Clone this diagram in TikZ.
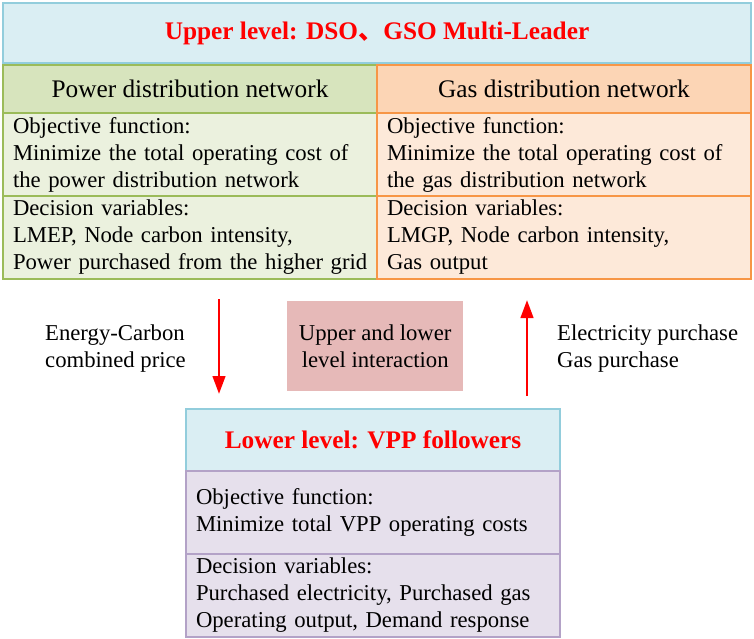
\documentclass[tikz,border=0pt]{standalone}
\usepackage{fontspec}
\setmainfont{Liberation Serif}
\newfontfamily\cjk{Noto Sans CJK SC}
\usetikzlibrary{arrows.meta}
\definecolor{skyfill}{HTML}{DAEEF3}
\definecolor{skyline}{HTML}{92CDDC}
\definecolor{grnhead}{HTML}{D7E4BD}
\definecolor{grnbody}{HTML}{EBF1DE}
\definecolor{grnline}{HTML}{9BBB59}
\definecolor{orghead}{HTML}{FCD5B5}
\definecolor{orgbody}{HTML}{FDE9D9}
\definecolor{orgline}{HTML}{F79646}
\definecolor{purbody}{HTML}{E6E0EC}
\definecolor{purline}{HTML}{B3A2C7}
\definecolor{midfill}{HTML}{E6B9B8}
\definecolor{titlered}{HTML}{FF0000}
\tikzset{
  every node/.style={font=\fontsize{22.7}{27}\selectfont},
  boxbase/.style={anchor=north west, line width=1.8pt, inner ysep=0pt, outer sep=0pt},
  titlebox/.style={boxbase, fill=skyfill, draw=skyline, font=\fontsize{25.3}{28}\selectfont\bfseries, text=titlered},
  headbox/.style={boxbase, font=\fontsize{25.3}{28}\selectfont},
  bodybox/.style={boxbase, align=left, inner xsep=10pt, text width=354pt, minimum height=83pt},
  lbl/.style={align=left, anchor=west, inner sep=0pt},
  flowarrow/.style={draw=titlered, line width=2.8pt, -{Triangle[width=12.5pt,length=18pt]}}
}
\begin{document}
\begin{tikzpicture}[x=1pt,y=-1pt]
\useasboundingbox (0,0) rectangle (754,639);
% top
\node[titlebox, minimum width=748pt, minimum height=60pt] (top) at (3,3) {Upper level: DSO{\cjk 、}GSO Multi-Leader};
\node[headbox, fill=grnhead, draw=grnline, minimum width=374pt, minimum height=48pt] (phead) at (3,65) {Power distribution network};
\node[headbox, fill=orghead, draw=orgline, minimum width=374pt, minimum height=48pt] (ghead) at (377,65) {Gas distribution network};
\node[bodybox, fill=grnbody, draw=grnline] (pobj) at (3,113) {Objective function:\\\mbox{Minimize the total operating cost of}\\the power distribution network};
\node[bodybox, fill=grnbody, draw=grnline] (pdec) at (3,196) {Decision variables:\\LMEP, Node carbon intensity,\\\mbox{Power purchased from the higher grid}};
\node[bodybox, fill=orgbody, draw=orgline] (gobj) at (377,113) {Objective function:\\\mbox{Minimize the total operating cost of}\\the gas distribution network};
\node[bodybox, fill=orgbody, draw=orgline] (gdec) at (377,196) {Decision variables:\\LMGP, Node carbon intensity,\\Gas output};
% middle
\node[anchor=north west, fill=midfill, minimum width=176pt, minimum height=90pt, align=center, inner sep=0pt] (mid) at (287,301) {Upper and lower\\level interaction};
\node[lbl] (llbl) at (45,349) {Energy-Carbon\\combined price};
\node[lbl] (rlbl) at (557,349) {Electricity purchase\\Gas purchase};
% bottom
\node[titlebox, minimum width=374pt, minimum height=62pt] (low) at (186,409) {Lower level: VPP followers};
\node[bodybox, fill=purbody, draw=purline] (lobj) at (186,471) {Objective function:\\Minimize total VPP operating costs};
\node[bodybox, fill=purbody, draw=purline] (ldec) at (186,554) {Decision variables:\\\mbox{Purchased electricity, Purchased gas}\\\mbox{Operating output, Demand response}};
% arrows
\coordinate (a1s) at (219,299);
\coordinate (a1e) at (219,394);
\coordinate (a2s) at (527,396);
\coordinate (a2e) at (527,300);
\draw[flowarrow] (a1s) -- (a1e);
\draw[flowarrow] (a2s) -- (a2e);
\end{tikzpicture}
\end{document}
